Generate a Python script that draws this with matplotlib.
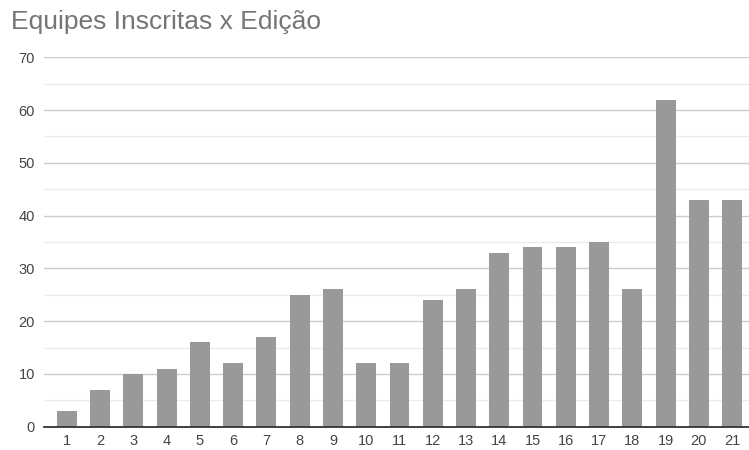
import matplotlib
matplotlib.use("Agg")
import matplotlib.pyplot as plt
from matplotlib.ticker import MultipleLocator

editions = [str(i) for i in range(1, 22)]
teams = [3, 7, 10, 11, 16, 12, 17, 25, 26, 12, 12, 24, 26, 33, 34, 34, 35, 26, 62, 43, 43]
title = "Equipes Inscritas x Edição"

plt.rcParams['font.family'] = ['Liberation Sans', 'DejaVu Sans']

fig = plt.figure(figsize=(7.49, 4.5), dpi=100)
ax = fig.add_axes([44/749, 23.3/450, 1 - 44/749, 369.4/450])

x = list(range(1, len(teams) + 1))
ax.bar(x, teams, width=0.6, color='#999999', zorder=3)

ax.set_ylim(0, 70)
ax.set_xlim(1 - 0.69, 21 + 0.51)
ax.yaxis.set_major_locator(MultipleLocator(10))
ax.yaxis.set_minor_locator(MultipleLocator(5))
ax.grid(which='major', axis='y', color='#cccccc', linewidth=1, zorder=0)
ax.grid(which='minor', axis='y', color='#ebebeb', linewidth=1, zorder=0)
ax.set_xticks(x)
ax.set_xticklabels(editions)
ax.tick_params(axis='both', which='both', length=0, labelsize=10.5, labelcolor='#444444')
ax.tick_params(axis='y', pad=6.5)
ax.tick_params(axis='x', pad=5)
for s in ['top', 'right', 'left']:
    ax.spines[s].set_visible(False)
ax.spines['bottom'].set_color('#333333')
ax.spines['bottom'].set_linewidth(1.3)
ax.spines['bottom'].set_zorder(4)

fig.text(11/749, 1 - 29/450, title, fontsize=19, color='#757575', ha='left', va='baseline')

fig.savefig('out.png', dpi=100)
